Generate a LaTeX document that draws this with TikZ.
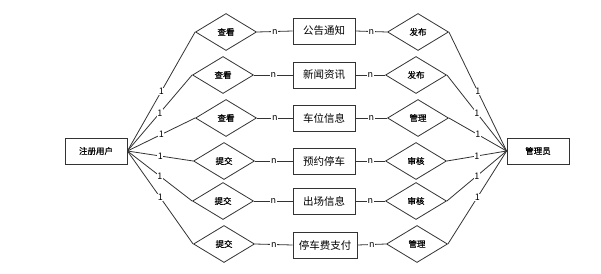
\documentclass[tikz,border=0pt]{standalone}
\usepackage{fontspec}
\newfontfamily\cjk{Noto Sans CJK SC}
\newfontfamily\cjkb[FakeBold=0.6]{Noto Sans CJK SC}
\usetikzlibrary{shapes.geometric}

\begin{document}
\begin{tikzpicture}[x=1pt, y=-1pt, font=\cjk, line width=0.8pt,
    ent/.style={draw=black!80, fill=white, font=\cjkb\fontsize{8.5}{10}\selectfont,
                minimum width=62pt, minimum height=26pt, inner sep=2pt},
    obj/.style={draw=black!80, fill=white, font=\cjk\fontsize{10.5}{12}\selectfont,
                minimum width=62pt, minimum height=26pt, inner sep=2pt},
    rel/.style={draw=black!80, diamond, fill=white, font=\cjkb\fontsize{8.5}{10}\selectfont,
                minimum width=61pt, minimum height=37pt, inner sep=0pt},
    lnk/.style={draw=black!80},
    card/.style={midway, fill=white, inner sep=0.6pt, font=\cjk\fontsize{9}{9}\selectfont}
]
    % page size of the reference
    \useasboundingbox (0,0) rectangle (601,273);

    % Entities on both sides
    \node[ent] (user)  at (96,151)  {注册用户};
    \node[ent] (admin) at (538,151) {管理员};

    % Relations on the user side (x=224)
    \node[rel] (see1) at (226,32)  {查看};
    \node[rel] (see2) at (223,75)  {查看};
    \node[rel] (see3) at (226,118) {查看};
    \node[rel] (sub1) at (224,161) {提交};
    \node[rel] (sub2) at (223,201) {提交};
    \node[rel] (sub3) at (224,244) {提交};

    % Data in the middle column (x=325)
    \node[obj] (notice)  at (324,31)  {公告通知};
    \node[obj] (news)    at (324,75)  {新闻资讯};
    \node[obj] (space)   at (324,118) {车位信息};
    \node[obj] (booking) at (324,161) {预约停车};
    \node[obj] (exit)    at (324,201) {出场信息};
    \node[obj, minimum width=64pt] (fee) at (325,245) {停车费支付};

    % Relations on the admin side (x=417)
    \node[rel] (pub1) at (418,32)  {发布};
    \node[rel] (pub2) at (416,75)  {发布};
    \node[rel] (mng1) at (418,118) {管理};
    \node[rel] (chk1) at (416,161) {审核};
    \node[rel] (chk2) at (416,201) {审核};
    \node[rel] (mng2) at (417,244) {管理};

    % User to its relations
    \draw[lnk] (user.east) -- (see1.west) node[card] {1};
    \draw[lnk] (user.east) -- (see2.west) node[card] {1};
    \draw[lnk] (user.east) -- (see3.west) node[card] {1};
    \draw[lnk] (user.east) -- (sub1.west) node[card] {1};
    \draw[lnk] (user.east) -- (sub2.west) node[card] {1};
    \draw[lnk] (user.east) -- (sub3.west) node[card] {1};

    % Relations to the data
    \draw[lnk] (see1.east) -- (notice.west)  node[card] {n};
    \draw[lnk] (see2.east) -- (news.west)    node[card] {n};
    \draw[lnk] (see3.east) -- (space.west)   node[card] {n};
    \draw[lnk] (sub1.east) -- (booking.west) node[card] {n};
    \draw[lnk] (sub2.east) -- (exit.west)    node[card] {n};
    \draw[lnk] (sub3.east) -- (fee.west)     node[card] {n};

    \draw[lnk] (notice.east)  -- (pub1.west) node[card] {n};
    \draw[lnk] (news.east)    -- (pub2.west) node[card] {n};
    \draw[lnk] (space.east)   -- (mng1.west) node[card] {n};
    \draw[lnk] (booking.east) -- (chk1.west) node[card] {n};
    \draw[lnk] (exit.east)    -- (chk2.west) node[card] {n};
    \draw[lnk] (fee.east)     -- (mng2.west) node[card] {n};

    % Admin relations to the admin
    \draw[lnk] (pub1.east) -- (admin.west) node[card] {1};
    \draw[lnk] (pub2.east) -- (admin.west) node[card] {1};
    \draw[lnk] (mng1.east) -- (admin.west) node[card] {1};
    \draw[lnk] (chk1.east) -- (admin.west) node[card] {1};
    \draw[lnk] (chk2.east) -- (admin.west) node[card] {1};
    \draw[lnk] (mng2.east) -- (admin.west) node[card] {1};
\end{tikzpicture}
\end{document}
